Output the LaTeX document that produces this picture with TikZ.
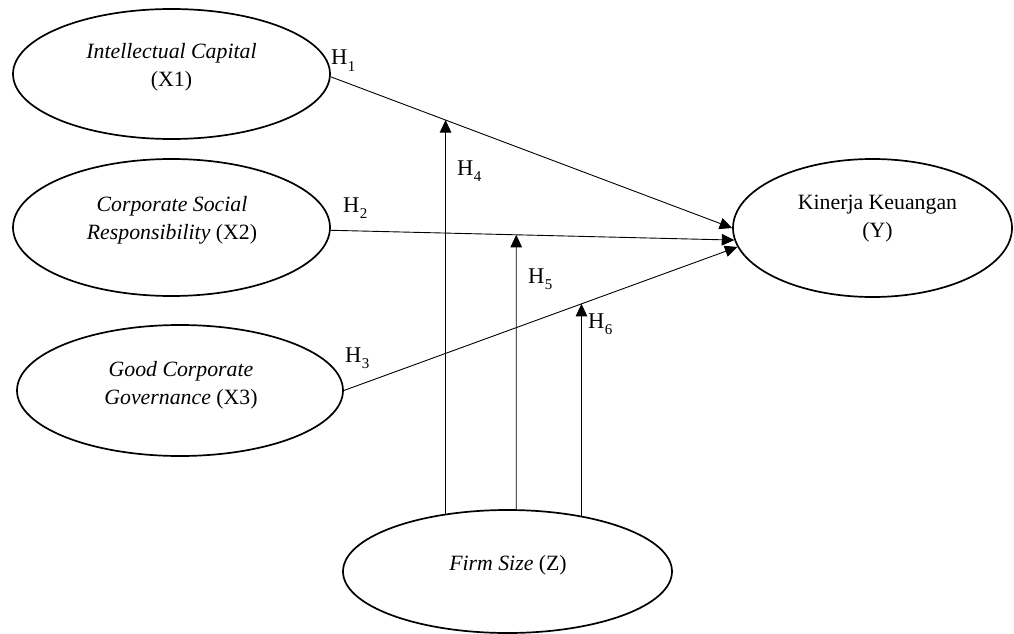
\documentclass[tikz,border=0pt]{standalone}
\usepackage{fontspec}
\setmainfont{Liberation Serif}
\usetikzlibrary{arrows.meta,shapes.geometric}
\newcommand{\hsub}[1]{H\kern0.5pt\raisebox{-6.5pt}{\fontsize{15}{15}\selectfont #1}}
\begin{document}
\begin{tikzpicture}[x=1pt,y=-1pt,
  ell/.style={draw, ellipse, line width=1.7pt, inner sep=0pt},
  txt/.style={align=center, font=\fontsize{21.8}{28}\selectfont, inner sep=0pt},
  hyp/.style={font=\fontsize{22.5}{26}\selectfont, inner sep=0pt, anchor=base west},
  conn/.style={line width=0.9pt, -{Triangle[length=12.5pt,width=11.5pt]}}]
\useasboundingbox[fill=white] (0,0) rectangle (1014,634);
% ellipses
\node[ell, minimum width=317pt, minimum height=130pt] (X1) at (171.5,74) {};
\node[ell, minimum width=317pt, minimum height=137pt] (X2) at (171.5,227.5) {};
\node[ell, minimum width=326pt, minimum height=131pt] (X3) at (180,390.5) {};
\node[ell, minimum width=279pt, minimum height=138pt] (Y) at (872.5,228) {};
\node[ell, minimum width=329pt, minimum height=123pt] (Z) at (507.5,571.5) {};
% texts
\node[txt] (X1t) at (171.5,67.5) {\textit{Intellectual Capital}\\(X1)};
\node[txt] (X2t) at (172,220) {\textit{Corporate Social}\\\textit{Responsibility} (X2)};
\node[txt] (X3t) at (181,385) {\textit{Good Corporate}\\\textit{Governance} (X3)};
\node[txt] (Yt) at (877.5,219) {Kinerja Keuangan\\(Y)};
\node[txt] (Zt) at (508,565) {\textit{Firm Size} (Z)};
% main paths
\coordinate (s1) at (X1.-1);
\coordinate (e1) at (Y.180);
\coordinate (s2) at (X2.-1.6);
\coordinate (e2) at (Y.185.8);
\coordinate (s3) at (X3.-0.9);
\coordinate (e3) at (Y.188.5);
\draw[conn] (s1) -- (e1);
\draw[conn] (s2) -- (e2);
\draw[conn] (s3) -- (e3);
% moderation
\coordinate (z4) at (Z.137.2);
\coordinate (u4) at ([yshift=10pt]z4);
\coordinate (z5) at (Z.82.1);
\coordinate (u5) at ([yshift=10pt]z5);
\coordinate (z6) at (Z.37.3);
\coordinate (u6) at ([yshift=10pt]z6);
\coordinate (t4) at (intersection of s1--e1 and z4--u4);
\coordinate (t5) at (intersection of s2--e2 and z5--u5);
\coordinate (t6) at (intersection of s3--e3 and z6--u6);
\draw[conn] (z4) -- (t4);
\draw[conn] (z5) -- (t5);
\draw[conn] (z6) -- (t6);
% labels
\node[hyp] (h1) at (331,65) {\hsub{1}};
\node[hyp] (h2) at (343,212) {\hsub{2}};
\node[hyp] (h3) at (345,362) {\hsub{3}};
\node[hyp] (h4) at (457,175) {\hsub{4}};
\node[hyp] (h5) at (528,283) {\hsub{5}};
\node[hyp] (h6) at (588,328) {\hsub{6}};
\end{tikzpicture}
\end{document}
